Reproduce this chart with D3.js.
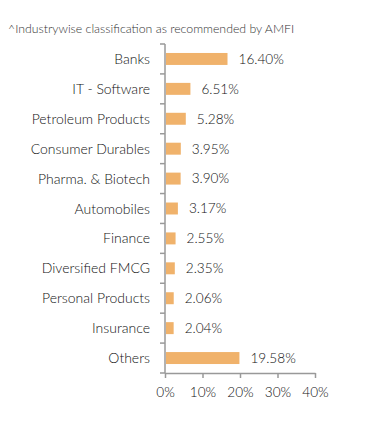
<!DOCTYPE html>
<html>
<head>
<meta charset="utf-8">
<script src="https://cdn.jsdelivr.net/npm/d3@7"></script>
<style>
  body { margin: 0; background: #fff; }
  svg { display: block; font-family: Lato, 'Open Sans', sans-serif; font-weight: 300; }
</style>
</head>
<body>
<svg id="chart" width="391" height="426"></svg>
<script>
const note = '^Industrywise classification as recommended by AMFI';
const industries = ['Banks', 'IT - Software', 'Petroleum Products', 'Consumer Durables',
    'Pharma. & Biotech', 'Automobiles', 'Finance', 'Diversified FMCG',
    'Personal Products', 'Insurance', 'Others'];
const weights = [16.40, 6.51, 5.28, 3.95, 3.90, 3.17, 2.55, 2.35, 2.06, 2.04, 19.58];
const xTicks = [0, 10, 20, 30, 40];

const margin = { top: 44, left: 165, right: 76, bottom: 53 };
const width = 391 - margin.left - margin.right;
const height = 426 - margin.top - margin.bottom;

const svg = d3.select('#chart');

svg.append('text')
    .attr('x', 8)
    .attr('y', 33)
    .attr('fill', '#333')
    .style('font-size', '12.3px')
    .text(note);

const g = svg.append('g')
    .attr('transform', `translate(${margin.left},${margin.top})`);

const x = d3.scaleLinear().domain([0, 40]).range([0, width]);
const y = d3.scaleBand().domain(industries).range([0, height]).paddingInner(0.6).paddingOuter(0.3);

const data = industries.map((name, i) => ({ name, value: weights[i] }));

// bars
g.append('g')
    .selectAll('rect')
    .data(data)
    .enter()
    .append('rect')
        .attr('x', 1)
        .attr('y', d => y(d.name))
        .attr('width', d => x(d.value))
        .attr('height', y.bandwidth())
        .attr('fill', '#f0b26b');

// value labels
g.append('g')
    .selectAll('text')
    .data(data)
    .enter()
    .append('text')
        .attr('x', d => x(d.value) + 12)
        .attr('y', d => y(d.name) + y.bandwidth() / 2)
        .attr('dy', '0.36em')
        .attr('fill', '#111')
        .style('font-size', '13.6px')
        .text(d => d.value.toFixed(2) + '%');

// y axis: ticks between categories
const step = y.step();
const yAxis = g.append('g');
yAxis.append('line')
    .attr('x1', 0).attr('x2', 0)
    .attr('y1', 0).attr('y2', height)
    .attr('stroke', '#999').attr('stroke-width', 1.5);
yAxis.selectAll('line.tick')
    .data(d3.range(industries.length + 1))
    .enter()
    .append('line')
        .attr('class', 'tick')
        .attr('x1', -5).attr('x2', 0)
        .attr('y1', i => i * step).attr('y2', i => i * step)
        .attr('stroke', '#999').attr('stroke-width', 1.5);
yAxis.selectAll('text')
    .data(industries)
    .enter()
    .append('text')
        .attr('x', -15)
        .attr('y', d => y(d) + y.bandwidth() / 2)
        .attr('dy', '0.36em')
        .attr('text-anchor', 'end')
        .attr('fill', '#111')
        .style('font-size', '14px')
        .text(d => d);

// x axis
const xAxis = g.append('g')
    .attr('transform', `translate(0,${height})`)
    .call(d3.axisBottom(x).tickValues(xTicks).tickSize(5).tickSizeOuter(0).tickFormat(d => d + '%'));
xAxis.select('.domain').attr('stroke', '#999').attr('stroke-width', 1.5);
xAxis.selectAll('.tick line').attr('stroke', '#999').attr('stroke-width', 1.5);
xAxis.selectAll('.tick text')
    .attr('fill', '#111')
    .attr('dy', '1.2em')
    .style('font-size', '13.6px')
    .style('font-family', "Lato, 'Open Sans', sans-serif")
    .style('font-weight', 300);
</script>
</body>
</html>
